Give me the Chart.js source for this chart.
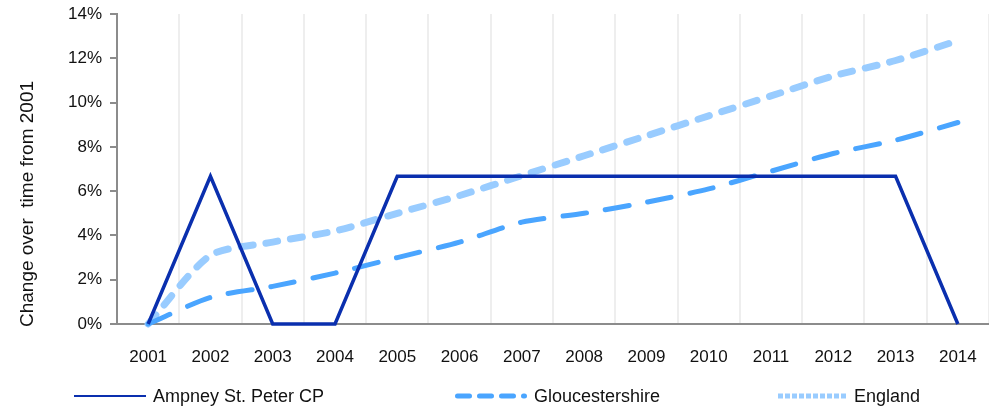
<!DOCTYPE html>
<html>
<head>
<meta charset="utf-8">
<script src="https://cdn.jsdelivr.net/npm/chart.js@4.4.1/dist/chart.umd.min.js"></script>
<style>
  html, body { margin: 0; padding: 0; background: #fff; }
  #wrap { width: 989px; height: 408px; position: relative; }
</style>
</head>
<body>
<div id="wrap"><canvas id="chart"></canvas></div>
<script>
// Chart data
const years = ['2001', '2002', '2003', '2004', '2005', '2006', '2007',
               '2008', '2009', '2010', '2011', '2012', '2013', '2014'];
const ampney = [0, 6.67, 0, 0, 6.67, 6.67, 6.67, 6.67, 6.67, 6.67, 6.67, 6.67, 6.67, 0];
const gloucestershire = [0, 1.2, 1.7, 2.3, 3.0, 3.7, 4.6, 5.0, 5.5, 6.1, 6.9, 7.7, 8.3, 9.1];
const england = [0, 3.1, 3.7, 4.2, 5.0, 5.8, 6.7, 7.6, 8.5, 9.4, 10.3, 11.2, 11.9, 12.8];
const yTicks = [0, 2, 4, 6, 8, 10, 12, 14];
const yTitle = 'Change over  time from 2001';

const FONT = 'Liberation Sans, Arial, sans-serif';
const TEXT = '#111';

// y title sits lower than the axis centre in the original, so draw it by hand
const yAxisTitle = {
    id: 'yAxisTitle',
    afterDraw(chart) {
        const ctx = chart.ctx;
        ctx.save();
        ctx.translate(28, 204);
        ctx.rotate(-Math.PI / 2);
        ctx.font = '19px ' + FONT;
        ctx.fillStyle = TEXT;
        ctx.textAlign = 'center';
        ctx.textBaseline = 'middle';
        ctx.fillText(yTitle, 0, 0);
        ctx.restore();
    }
};

// legend drawn on the canvas along the bottom
const bottomLegend = {
    id: 'bottomLegend',
    afterDraw(chart) {
        const ctx = chart.ctx;
        const starts = [74, 455, 778];
        const lens = [72, 72, 69];
        const y = 396;
        ctx.save();
        ctx.font = '18px ' + FONT;
        ctx.textBaseline = 'middle';
        chart.data.datasets.forEach((ds, i) => {
            const x0 = starts[i];
            const cap = ds.legendCap || 'butt';
            const inset = cap === 'round' ? ds.legendWidth / 2 : 0;
            ctx.beginPath();
            ctx.strokeStyle = ds.borderColor;
            ctx.lineWidth = ds.legendWidth;
            ctx.lineCap = cap;
            ctx.setLineDash(ds.legendDash || []);
            ctx.moveTo(x0 + inset, y);
            ctx.lineTo(x0 + lens[i] - inset, y);
            ctx.stroke();
            ctx.setLineDash([]);
            ctx.fillStyle = TEXT;
            ctx.fillText(ds.label, x0 + lens[i] + 7, y + 1);
        });
        ctx.restore();
    }
};

new Chart(document.getElementById('chart'), {
    type: 'line',
    data: {
        labels: years,
        datasets: [
            {
                label: 'Ampney St. Peter CP',
                data: ampney,
                borderColor: '#0a2fae',
                borderWidth: 3.5,
                tension: 0,
                pointRadius: 0,
                clip: false,
                legendWidth: 2
            },
            {
                label: 'Gloucestershire',
                data: gloucestershire,
                borderColor: '#4aa5ff',
                borderWidth: 5,
                borderDash: [24, 19],
                borderCapStyle: 'round',
                tension: 0.25,
                pointRadius: 0,
                clip: false,
                legendWidth: 5,
                legendDash: [12, 10],
                legendCap: 'round'
            },
            {
                label: 'England',
                data: england,
                borderColor: '#99ccff',
                borderWidth: 7,
                borderDash: [12, 13],
                borderCapStyle: 'round',
                tension: 0.25,
                pointRadius: 0,
                clip: false,
                legendWidth: 5,
                legendDash: [5, 2]
            }
        ]
    },
    options: {
        responsive: true,
        maintainAspectRatio: false,
        animation: false,
        layout: { padding: { top: 14, right: 0, bottom: 39, left: 0 } },
        scales: {
            x: {
                offset: true,
                grid: { offset: true, color: '#eeeeee', lineWidth: 2, drawTicks: false },
                border: { color: '#8c8c8c', width: 2 },
                ticks: { color: TEXT, font: { family: FONT, size: 17 }, padding: 23, maxRotation: 0 },
                afterFit: s => { s.height = 45; s.paddingLeft = 0; s.paddingRight = 0; }
            },
            y: {
                min: 0,
                max: 14,
                afterBuildTicks: s => { s.ticks = yTicks.map(v => ({ value: v })); },
                grid: { drawOnChartArea: false, color: '#8c8c8c', tickLength: 7, lineWidth: 2 },
                border: { color: '#8c8c8c', width: 2 },
                ticks: {
                    color: TEXT,
                    font: { family: FONT, size: 17 },
                    padding: 8,
                    callback: v => v + '%'
                },
                afterFit: s => { s.width = 117; s.paddingTop = 0; s.paddingBottom = 0; }
            }
        },
        plugins: {
            legend: { display: false },
            tooltip: { enabled: false }
        }
    },
    plugins: [yAxisTitle, bottomLegend]
});
</script>
</body>
</html>
